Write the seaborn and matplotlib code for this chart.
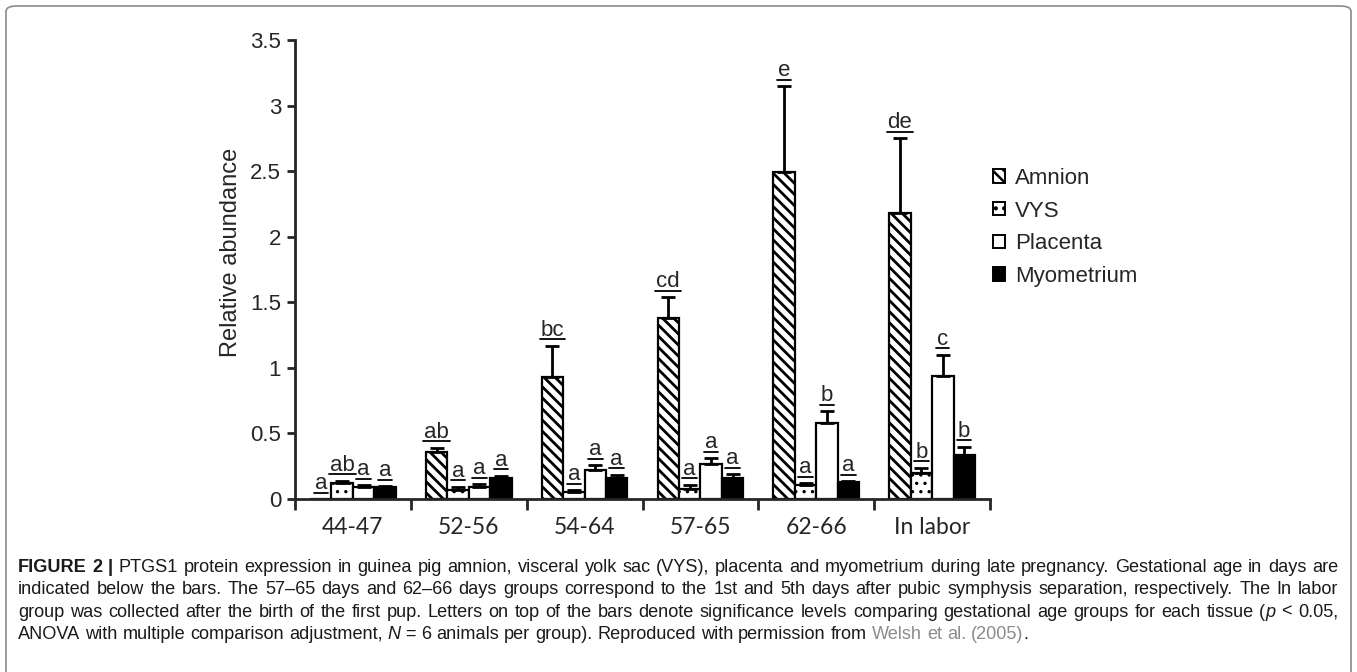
import matplotlib.pyplot as plt
from matplotlib.patches import FancyBboxPatch, Patch
from matplotlib.lines import Line2D

import seaborn as sns
import pandas as pd
import numpy as np


groups = ['44-47', '52-56', '54-64', '57-65', '62-66', 'In labor']
tissues = ['Amnion', 'VYS', 'Placenta', 'Myometrium']

# mean relative abundance per tissue, one value per group
amnion = [0.0, 0.355, 0.93, 1.38, 2.49, 2.18]
vys = [0.125, 0.07, 0.05, 0.076, 0.11, 0.20]
placenta = [0.095, 0.095, 0.22, 0.27, 0.58, 0.94]
myometrium = [0.095, 0.158, 0.16, 0.16, 0.13, 0.335]

# upper error bar lengths
amnion_err = [0.0, 0.035, 0.24, 0.16, 0.66, 0.57]
vys_err = [0.015, 0.025, 0.016, 0.034, 0.01, 0.04]
placenta_err = [0.01, 0.02, 0.04, 0.04, 0.09, 0.16]
myometrium_err = [0.005, 0.02, 0.025, 0.03, 0.005, 0.065]

# significance letters
amnion_sig = ['a', 'ab', 'bc', 'cd', 'e', 'de']
vys_sig = ['ab', 'a', 'a', 'a', 'a', 'b']
placenta_sig = ['a', 'a', 'a', 'a', 'b', 'c']
myometrium_sig = ['a', 'a', 'a', 'a', 'a', 'b']

yticks = [0, 0.5, 1, 1.5, 2, 2.5, 3, 3.5]
ytick_labels = ['0', '0.5', '1', '1.5', '2', '2.5', '3', '3.5']

# caption: '#' toggles bold, '*' italic, '~' grey link colour
caption = [
    "#FIGURE# #2# #|# PTGS1 protein expression in guinea pig amnion, visceral yolk sac (VYS), placenta and myometrium during late pregnancy. Gestational age in days are",
    "indicated below the bars. The 57–65 days and 62–66 days groups correspond to the 1st and 5th days after pubic symphysis separation, respectively. The In labor",
    "group was collected after the birth of the first pup. Letters on top of the bars denote significance levels comparing gestational age groups for each tissue (*p* < 0.05,",
    "ANOVA with multiple comparison adjustment, *N* = 6 animals per group). Reproduced with permission from ~Welsh~ ~et~ ~al.~ ~(2005)~.",
]

W, H = 1357, 672

sns.set_style('ticks')
plt.rcParams['font.family'] = ['Liberation Sans', 'DejaVu Sans']
plt.rcParams['hatch.linewidth'] = 1.8

fig = plt.figure(figsize=(W / 100, H / 100), dpi=100)
ax = fig.add_axes([295 / W, 1 - 499 / H, (990 - 295) / W, (499 - 40) / H])

df = pd.DataFrame({
    'group': groups * len(tissues),
    'tissue': np.repeat(tissues, len(groups)),
    'value': amnion + vys + placenta + myometrium,
})

sns.barplot(data=df, x='group', y='value', hue='tissue', hue_order=tissues,
            palette=['white', 'white', 'white', 'black'], saturation=1,
            edgecolor='black', linewidth=1.6, width=0.74, errorbar=None,
            legend=False, ax=ax)

hatches = ['\\\\\\', '..', '', '']
hatch_lw = [2.0, 1.2, 1.0, 1.0]
errs = [amnion_err, vys_err, placenta_err, myometrium_err]
sigs = [amnion_sig, vys_sig, placenta_sig, myometrium_sig]

letters = []
for cont, h, hlw, err, sig in zip(ax.containers, hatches, hatch_lw, errs, sigs):
    for bar, e, s in zip(cont, err, sig):
        bar.set_hatch(h)
        if hasattr(bar, 'set_hatch_linewidth'):
            bar.set_hatch_linewidth(hlw)
        x = bar.get_x() + bar.get_width() / 2
        top = bar.get_height()
        if e > 0:
            ax.errorbar(x, top, yerr=[[0], [e]], color='black', lw=2,
                        capsize=5, capthick=2, zorder=1)
        t = ax.annotate(s, (x, top + e), xytext=(0, 3.5), textcoords='offset points',
                        ha='center', va='bottom', fontsize=16)
        letters.append(t)

ax.set_ylim(0, 3.5)
ax.set_xlim(-0.5, 5.5)
ax.set_yticks(yticks)
ax.set_yticklabels(ytick_labels)
sns.despine(ax=ax)
for sp in ['left', 'bottom']:
    ax.spines[sp].set_linewidth(2)

ax.tick_params(axis='y', length=6, width=2, labelsize=16, pad=4)
ax.tick_params(axis='x', which='major', length=0, pad=13)
ax.set_xticks(np.arange(-0.5, 6), minor=True)
ax.tick_params(axis='x', which='minor', length=8, width=2, direction='out')
for lab in ax.get_xticklabels():
    lab.set_fontfamily(['Lato', 'DejaVu Sans'])
    lab.set_fontsize(16.5)

ax.set_xlabel('')
ax.set_ylabel('Relative abundance', fontsize=17, labelpad=6)
ax.yaxis.label.set_y(0.538)

handles = [Patch(facecolor=fc, edgecolor='black', hatch=h, lw=1.4)
           for fc, h in zip(['white', 'white', 'white', 'black'], hatches)]
fig.legend(handles, tissues, loc='upper left', bbox_to_anchor=(993 / W, 1 - 168 / H),
           frameon=False, fontsize=16, handlelength=0.55, handleheight=0.55,
           handletextpad=0.45, labelspacing=0.52, borderpad=0, borderaxespad=0)

# frame round the whole figure
fig.add_artist(FancyBboxPatch((6 / W, -0.02), 1 - 12 / W, 1.02 - 6 / H,
                              boxstyle='round,pad=0,rounding_size=0.008',
                              transform=fig.transFigure, fill=False,
                              edgecolor='#8a8a8a', lw=1.2))

fig.canvas.draw()
renderer = fig.canvas.get_renderer()

# underline the letters
for t in letters:
    bb = t.get_window_extent(renderer)
    y = bb.y0 + 1.5
    fig.add_artist(Line2D([(bb.x0 - 1) / W, (bb.x1 + 1) / W], [y / H, y / H],
                          transform=fig.transFigure, color='black', lw=1.3))


def parse_word(word):
    segs = []
    style = {'b': False, 'i': False, 'g': False}
    buf = ''
    marks = {'#': 'b', '*': 'i', '~': 'g'}
    for ch in word:
        if ch in marks:
            if buf:
                segs.append((buf, dict(style)))
                buf = ''
            style[marks[ch]] = not style[marks[ch]]
        else:
            buf += ch
    if buf:
        segs.append((buf, dict(style)))
    return segs


def seg_text(x, y, s, st, size):
    return fig.text(x / W, y / H, s, va='baseline', ha='left', fontsize=size,
                    family=['Liberation Sans', 'DejaVu Sans'],
                    fontweight='bold' if st['b'] else 'normal',
                    fontstyle='italic' if st['i'] else 'normal',
                    color='#8c8c8c' if st['g'] else '#1a1a1a')


def width_of(t):
    return t.get_window_extent(renderer).width


def layout_line(line, y, size):
    words = [parse_word(w) for w in line.split(' ')]
    drawn = []
    for segs in words:
        drawn.append([(t, width_of(t)) for t in
                      (seg_text(0, y, s, st, size) for s, st in segs)])
    return drawn


def space_width(size):
    a = seg_text(0, 0, 'a a', {'b': False, 'i': False, 'g': False}, size)
    b = seg_text(0, 0, 'aa', {'b': False, 'i': False, 'g': False}, size)
    w = width_of(a) - width_of(b)
    a.remove()
    b.remove()
    return w


x_left, x_right = 18, 1338

# pick the caption size so the widest line just fits the box
base = 12.0
sp = space_width(base)
natural = []
for line in caption[:3]:
    d = layout_line(line, 0, base)
    natural.append(sum(wd for p in d for _, wd in p) + sp * (len(d) - 1))
    for p in d:
        for t, _ in p:
            t.remove()
cap_size = base * (x_right - x_left) / max(natural) * 0.99
space_w = space_width(cap_size)

for i, line in enumerate(caption):
    y = H - 572 - i * 22.3
    drawn = layout_line(line, y, cap_size)
    total = sum(wd for parts in drawn for _, wd in parts)
    last = i == len(caption) - 1
    gap = space_w if last else (x_right - x_left - total) / (len(drawn) - 1)
    x = x_left
    for parts in drawn:
        for t, wd in parts:
            t.set_x(x / W)
            x += wd
        x += gap

fig.savefig('out.png', dpi=100)
